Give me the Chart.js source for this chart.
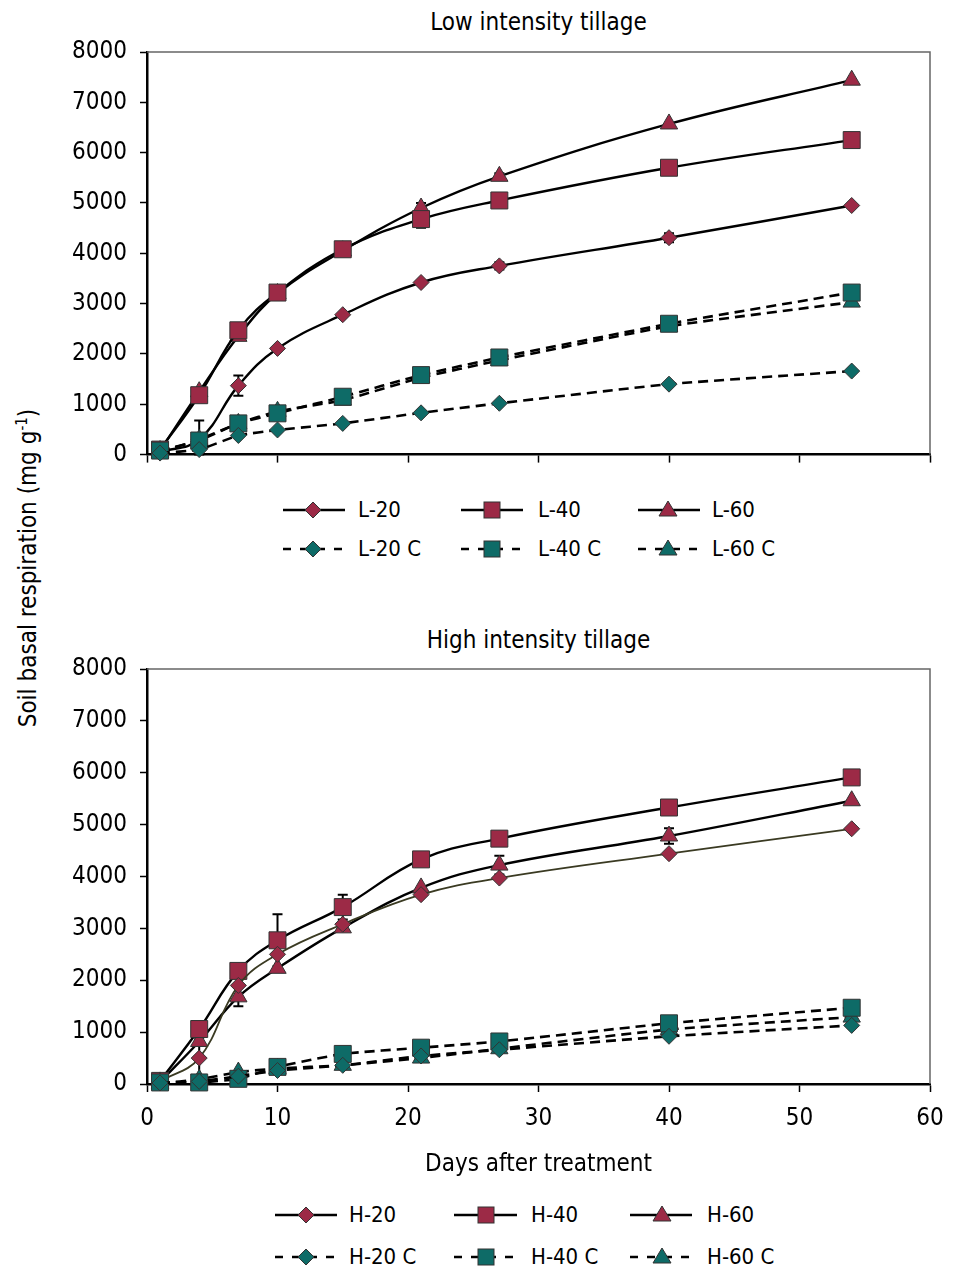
<!DOCTYPE html>
<html><head><meta charset="utf-8">
<script src="https://cdn.jsdelivr.net/npm/chart.js@4.4.1/dist/chart.umd.min.js"></script>
<style>
html,body{margin:0;padding:0;background:#fff}
body{width:957px;height:1267px;position:relative;overflow:hidden;font-family:'DejaVu Sans Condensed','DejaVu Sans',sans-serif;font-stretch:condensed;color:#000}
.box{position:absolute;left:0;width:957px}
.ptitle{position:absolute;left:147px;width:783px;text-align:center;font-size:24px;line-height:28px}
#ytitle{position:absolute;left:28px;top:568px;transform:translate(-50%,-50%) rotate(-90deg);white-space:nowrap;font-size:24px;line-height:28px}
#ytitle sup{font-size:15px;vertical-align:9px;line-height:0}
.lg{position:absolute;font-size:22px;line-height:26px;white-space:nowrap}
svg{position:absolute;overflow:visible}
</style></head>
<body>
<div class="ptitle" style="top:8px">Low intensity tillage</div>
<div class="ptitle" style="top:626px">High intensity tillage</div>
<div id="ytitle">Soil basal respiration (mg g<sup>-1</sup>)</div>
<div class="box" style="top:0;height:482px"><canvas id="c1"></canvas></div>
<div class="box" style="top:600px;height:600px"><canvas id="c2"></canvas></div>
<div id="legends"></div>
<script>
// ---- data ----
const days = [1, 4, 7, 10, 15, 21, 27, 40, 54];
const xTickStep = 10;
const yMax = 8000;

const L20  = [50, 300, 1370, 2110, 2780, 3420, 3750, 4310, 4950];
const L40  = [100, 1180, 2470, 3220, 4080, 4680, 5050, 5700, 6250];
const L60  = [80, 1250, 2350, 3200, 4050, 4900, 5530, 6570, 7440];
const L20C = [30, 100, 380, 490, 620, 830, 1020, 1400, 1660];
const L40C = [80, 280, 620, 820, 1150, 1580, 1930, 2600, 3220];
const L60C = [50, 300, 620, 860, 1080, 1530, 1870, 2550, 3030];
const L20_err = [0, 380, 200, 0, 0, 0, 70, 90, 0];
const L40_err = [0, 0, 0, 0, 90, 170, 0, 0, 0];
const L60_err = [0, 0, 0, 0, 0, 100, 60, 0, 0];

const H20  = [50, 500, 1900, 2500, 3080, 3650, 3970, 4440, 4920];
const H40  = [60, 1060, 2180, 2770, 3410, 4330, 4730, 5330, 5910];
const H60  = [40, 820, 1680, 2230, 3010, 3780, 4220, 4780, 5460];
const H20C = [20, 50, 150, 260, 360, 540, 660, 920, 1130];
const H40C = [30, 30, 100, 330, 580, 700, 820, 1170, 1470];
const H60C = [10, 90, 230, 300, 360, 500, 680, 1050, 1290];
const H20_err = [0, 390, 0, 0, 0, 0, 0, 0, 0];
const H40_err = [0, 0, 0, 500, 240, 100, 0, 0, 0];
const H60_err = [0, 0, 180, 0, 0, 0, 180, 150, 0];

const lowNames  = ['L-20', 'L-40', 'L-60', 'L-20 C', 'L-40 C', 'L-60 C'];
const highNames = ['H-20', 'H-40', 'H-60', 'H-20 C', 'H-40 C', 'H-60 C'];

// ---- styles ----
const MAROON = '#9C2A46', TEAL = '#0E6B67', EDGE = '#333';
const FONT = "'DejaVu Sans Condensed', 'DejaVu Sans', sans-serif";
const shapes = [
  {style: 'rectRot', r: 8},
  {style: 'rect', r: 12},
  {style: 'triangle', r: 10}
];

function ds(label, vals, err, k, control, lineColor, lw) {
  return {
    label,
    data: days.map((d, i) => ({x: d, y: vals[i]})),
    err,
    borderColor: lineColor || '#000',
    borderWidth: lw || (control ? 2.6 : 2.4),
    borderDash: control ? [10, 6] : [],
    tension: control ? 0.15 : 0.4,
    fill: false,
    pointStyle: shapes[k].style,
    pointRadius: shapes[k].r,
    pointHoverRadius: shapes[k].r,
    pointBackgroundColor: control ? TEAL : MAROON,
    pointBorderColor: EDGE,
    pointBorderWidth: 1,
    clip: false
  };
}

const errorBars = {
  id: 'errorBars',
  beforeDatasetsDraw(chart) {
    const {ctx, scales: {x, y}} = chart;
    ctx.save();
    ctx.strokeStyle = '#000';
    ctx.lineWidth = 2;
    chart.data.datasets.forEach(d => {
      if (!d.err) return;
      d.data.forEach((p, j) => {
        const e = d.err[j];
        if (!e) return;
        const px = x.getPixelForValue(p.x);
        const y1 = y.getPixelForValue(p.y + e);
        const y2 = y.getPixelForValue(Math.max(0, p.y - e));
        ctx.beginPath();
        ctx.moveTo(px, y1); ctx.lineTo(px, y2);
        ctx.moveTo(px - 5, y1); ctx.lineTo(px + 5, y1);
        ctx.moveTo(px - 5, y2); ctx.lineTo(px + 5, y2);
        ctx.stroke();
      });
    });
    ctx.restore();
  }
};

const frame = {
  id: 'frame',
  beforeDatasetsDraw(chart) {
    const {ctx, chartArea: a} = chart;
    ctx.save();
    ctx.strokeStyle = '#666';
    ctx.lineWidth = 1.5;
    ctx.beginPath();
    ctx.moveTo(a.left, a.top); ctx.lineTo(a.right, a.top); ctx.lineTo(a.right, a.bottom);
    ctx.stroke();
    ctx.restore();
  }
};

const plain = v => String(v);

function opts(showX, padding, xHeight) {
  return {
    responsive: true,
    maintainAspectRatio: false,
    animation: false,
    events: [],
    layout: {padding},
    plugins: {legend: {display: false}, title: {display: false}, tooltip: {enabled: false}},
    scales: {
      x: {
        type: 'linear', min: 0, max: 60,
        ticks: {display: showX, stepSize: xTickStep, color: '#000', padding: 12, font: {family: FONT, size: 24}, maxRotation: 0, callback: plain},
        grid: {display: true, drawOnChartArea: false, drawTicks: true, tickLength: 8, tickColor: '#000', tickWidth: 1.5},
        border: {display: true, color: '#000', width: 2.5},
        title: {display: showX, text: 'Days after treatment', color: '#000', font: {family: FONT, size: 24}, padding: {top: 0, bottom: 15}},
        afterFit(s) { s.height = xHeight; }
      },
      y: {
        min: 0, max: yMax,
        ticks: {stepSize: 1000, color: '#000', padding: 13, font: {family: FONT, size: 24}, callback: plain},
        grid: {display: true, drawOnChartArea: false, drawTicks: true, tickLength: 7, tickColor: '#000', tickWidth: 1.5},
        border: {display: true, color: '#000', width: 2.5},
        afterFit(s) { s.width = 80; }
      }
    }
  };
}

new Chart(document.getElementById('c1'), {
  type: 'line',
  data: {datasets: [
    ds(lowNames[3], L20C, null, 0, true),
    ds(lowNames[4], L40C, null, 1, true),
    ds(lowNames[5], L60C, null, 2, true),
    ds(lowNames[0], L20, L20_err, 0, false),
    ds(lowNames[1], L40, L40_err, 1, false),
    ds(lowNames[2], L60, L60_err, 2, false)
  ]},
  options: opts(false, {left: 67, right: 27, top: 52, bottom: 7}, 10),
  plugins: [frame, errorBars]
});

new Chart(document.getElementById('c2'), {
  type: 'line',
  data: {datasets: [
    ds(highNames[3], H20C, null, 0, true),
    ds(highNames[4], H40C, null, 1, true),
    ds(highNames[5], H60C, null, 2, true),
    ds(highNames[0], H20, H20_err, 0, false, '#3a3a22', 1.8),
    ds(highNames[1], H40, H40_err, 1, false),
    ds(highNames[2], H60, H60_err, 2, false)
  ]},
  options: opts(true, {left: 67, right: 27, top: 69, bottom: 6}, 110),
  plugins: [frame, errorBars]
});

// ---- HTML legends ----
function markerSVG(k, color, cx, cy) {
  if (k === 0) return `<polygon points="${cx},${cy-8} ${cx+8},${cy} ${cx},${cy+8} ${cx-8},${cy}" fill="${color}" stroke="${EDGE}" stroke-width="1"/>`;
  if (k === 1) return `<rect x="${cx-8}" y="${cy-8}" width="16" height="16" fill="${color}" stroke="${EDGE}" stroke-width="1"/>`;
  return `<polygon points="${cx},${cy-9} ${cx+9},${cy+6} ${cx-9},${cy+6}" fill="${color}" stroke="${EDGE}" stroke-width="1"/>`;
}
function addLegend(names, rows, cols) {
  const root = document.getElementById('legends');
  names.forEach((n, i) => {
    const control = i >= 3, k = i % 3;
    const rowY = rows[control ? 1 : 0];
    const c = cols[k];
    const w = c.end - c.start;
    const svg = document.createElementNS('http://www.w3.org/2000/svg', 'svg');
    svg.setAttribute('width', w); svg.setAttribute('height', 24);
    svg.style.left = c.start + 'px'; svg.style.top = (rowY - 12) + 'px';
    const dash = control ? 'stroke-dasharray="8,9"' : '';
    svg.innerHTML = `<line x1="0" y1="12" x2="${w}" y2="12" stroke="#000" stroke-width="2.4" ${dash}/>` +
      markerSVG(k, control ? TEAL : MAROON, c.mark - c.start, 12);
    root.appendChild(svg);
    const t = document.createElement('div');
    t.className = 'lg';
    t.textContent = n;
    t.style.left = c.text + 'px';
    t.style.top = (rowY - 13) + 'px';
    root.appendChild(t);
  });
}
addLegend(lowNames, [510, 549], [
  {start: 283, end: 345, mark: 313, text: 358},
  {start: 461, end: 523, mark: 492, text: 538},
  {start: 638, end: 700, mark: 668, text: 712}
]);
addLegend(highNames, [1215, 1257], [
  {start: 275, end: 337, mark: 306, text: 349},
  {start: 454, end: 517, mark: 486, text: 531},
  {start: 630, end: 692, mark: 662, text: 707}
]);
</script>
</body></html>
